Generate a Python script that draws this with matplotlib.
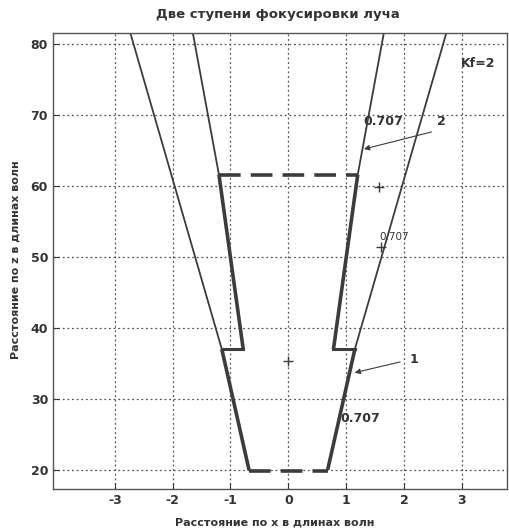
import matplotlib
matplotlib.use("Agg")
import matplotlib.pyplot as plt
import numpy as np

plt.rcParams["axes.unicode_minus"] = False

# ---- data (x in wavelengths, z in wavelengths) ----
# stage 1 (lower) thick beam edge, right side (left side mirrored)
z_stage1 = [20.0, 37.0]
x_stage1 = [0.68, 1.15]
# step at the second lens
z_step = [37.0, 37.0]
x_step = [1.15, 0.78]
# stage 2 (upper) thick beam edge
z_stage2 = [37.0, 61.6]
x_stage2 = [0.78, 1.20]
# continuation of stage 2 edge (thin)
z_stage2_ext = [61.6, 81.5]
x_stage2_ext = [1.20, 1.65]
# continuation of stage 1 edge without second focusing (thin)
z_outer = [37.0, 81.5]
x_outer = [1.15, 2.73]
# dashed focal-zone boundaries
z_top_dash = 61.6
x_top_dash = [-1.20, 1.20]
z_bot_dash = 19.85
x_bot_dash = [-0.68, 0.68]
# small cross markers
x_marks = [1.57, 1.60, 0.0]
z_marks = [59.9, 51.4, 35.4]

x_ticks = [-3, -2, -1, 0, 1, 2, 3]
z_ticks = [20, 30, 40, 50, 60, 70, 80]

title = "Две ступени фокусировки луча"
xlabel = "Расстояние по x в длинах волн"
ylabel = "Расстояние по z в длинах волн"

LC = "#3c3c3c"
TC = "#333333"

fig = plt.figure(figsize=(5.09, 5.29), dpi=100)
ax = fig.add_axes([0.104, 0.0756, 0.892, 0.862])

for s in (1, -1):
    ax.plot(s * np.array(x_stage1), z_stage1, color=LC, lw=2.6, solid_capstyle="butt")
    ax.plot(s * np.array(x_step), z_step, color=LC, lw=2.2)
    ax.plot(s * np.array(x_stage2), z_stage2, color=LC, lw=2.6, solid_capstyle="butt")
    ax.plot(s * np.array(x_stage2_ext), z_stage2_ext, color=LC, lw=1.3)
    ax.plot(s * np.array(x_outer), z_outer, color=LC, lw=1.3)

ax.plot(x_top_dash, [z_top_dash] * 2, color=LC, lw=2.6, dashes=(6, 2.8))
ax.plot(x_bot_dash, [z_bot_dash] * 2, color=LC, lw=2.6, dashes=(6, 2.8))
ax.plot(x_marks, z_marks, ls="none", marker="+", color=LC, ms=7, mew=1.0)

ax.set_xlim(-4.07, 3.78)
ax.set_ylim(17.3, 81.55)
ax.set_xticks(x_ticks)
ax.set_yticks(z_ticks)
ax.grid(True, ls=(0, (1.5, 2.2)), color="#555555", lw=0.9)
ax.tick_params(direction="in", length=4, width=0.8, labelsize=9, colors=TC)
for lab in ax.get_xticklabels() + ax.get_yticklabels():
    lab.set_fontweight("bold")
for sp in ax.spines.values():
    sp.set_color("#555555")
    sp.set_linewidth(1.0)

fig.text(0.545, 0.972, title, ha="center", va="center", fontsize=9.5, fontweight="bold", color=TC)
fig.text(0.54, 0.012, xlabel, ha="center", va="center", fontsize=8, fontweight="bold", color=TC)
fig.text(0.03, 0.51, ylabel, ha="center", va="center", rotation=90, fontsize=8, fontweight="bold", color=TC)

# annotations
ax.text(3.29, 77.3, "Kf=2", ha="center", va="center", fontsize=9, fontweight="bold", color=TC)
ax.text(1.30, 69.1, "0.707", ha="left", va="center", fontsize=9, fontweight="bold", color=TC)
ax.text(2.64, 69.1, "2", ha="center", va="center", fontsize=9, fontweight="bold", color=TC)
ax.annotate("", xy=(1.26, 65.1), xytext=(2.52, 67.7),
            arrowprops=dict(arrowstyle="-|>", color=LC, lw=0.8, mutation_scale=8))
ax.text(2.17, 35.6, "1", ha="center", va="center", fontsize=9, fontweight="bold", color=TC)
ax.annotate("", xy=(1.10, 33.6), xytext=(1.98, 35.3),
            arrowprops=dict(arrowstyle="-|>", color=LC, lw=0.8, mutation_scale=8))
ax.text(0.90, 27.2, "0.707", ha="left", va="center", fontsize=9, fontweight="bold", color=TC)
ax.text(1.58, 52.8, "0.707", ha="left", va="center", fontsize=7.5, color=TC)

fig.savefig("out.png", dpi=100, facecolor="white")
